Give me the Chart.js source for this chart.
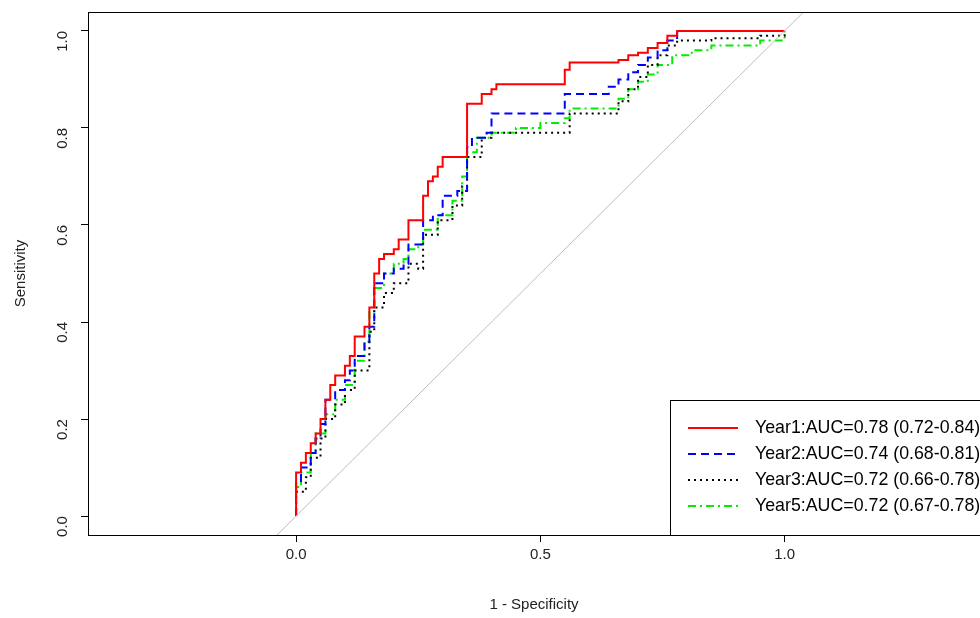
<!DOCTYPE html>
<html>
<head>
<meta charset="utf-8">
<script src="https://cdn.jsdelivr.net/npm/chart.js@4/dist/chart.umd.min.js"></script>
<style>
html,body{margin:0;padding:0;background:#fff;overflow:hidden}
#wrap{width:980px;height:618px}
</style>
</head>
<body>
<div id="wrap"><canvas id="roc"></canvas></div>
<script>
// ROC curves, points as [1 - specificity, sensitivity]
var year1 = [[0,0],[0,0.09],[0.01,0.11],[0.02,0.13],[0.03,0.15],[0.04,0.17],[0.05,0.2],[0.06,0.24],[0.07,0.27],[0.08,0.29],[0.1,0.31],[0.11,0.33],[0.12,0.37],[0.14,0.39],[0.15,0.43],[0.16,0.46],[0.16,0.5],[0.17,0.53],[0.18,0.54],[0.2,0.55],[0.21,0.57],[0.23,0.57],[0.23,0.61],[0.26,0.61],[0.26,0.66],[0.27,0.69],[0.28,0.7],[0.29,0.72],[0.3,0.74],[0.34,0.74],[0.35,0.76],[0.35,0.85],[0.38,0.85],[0.38,0.87],[0.4,0.88],[0.41,0.89],[0.55,0.89],[0.55,0.92],[0.56,0.935],[0.64,0.935],[0.66,0.94],[0.68,0.95],[0.7,0.955],[0.72,0.965],[0.74,0.975],[0.76,0.99],[0.78,1],[1,1]];
var year2 = [[0,0],[0,0.07],[0.01,0.1],[0.03,0.13],[0.04,0.16],[0.05,0.19],[0.06,0.24],[0.08,0.26],[0.1,0.28],[0.11,0.3],[0.12,0.33],[0.14,0.36],[0.15,0.39],[0.16,0.44],[0.16,0.48],[0.18,0.5],[0.2,0.51],[0.22,0.52],[0.23,0.56],[0.25,0.56],[0.26,0.61],[0.28,0.62],[0.3,0.66],[0.33,0.67],[0.35,0.7],[0.35,0.76],[0.36,0.78],[0.39,0.79],[0.4,0.83],[0.54,0.83],[0.55,0.87],[0.62,0.87],[0.64,0.885],[0.66,0.9],[0.68,0.915],[0.7,0.93],[0.72,0.945],[0.74,0.96],[0.76,0.98],[0.78,1],[1,1]];
var year3 = [[0,0],[0,0.05],[0.02,0.08],[0.03,0.12],[0.05,0.16],[0.06,0.2],[0.08,0.23],[0.1,0.26],[0.12,0.3],[0.15,0.34],[0.15,0.38],[0.16,0.43],[0.18,0.46],[0.2,0.48],[0.22,0.48],[0.23,0.52],[0.25,0.51],[0.26,0.58],[0.29,0.61],[0.32,0.64],[0.34,0.68],[0.35,0.74],[0.38,0.78],[0.4,0.79],[0.55,0.79],[0.56,0.83],[0.64,0.83],[0.66,0.855],[0.68,0.88],[0.7,0.905],[0.72,0.93],[0.74,0.95],[0.76,0.97],[0.78,0.98],[0.85,0.985],[0.95,0.99],[1,1]];
var year5 = [[0,0],[0,0.06],[0.01,0.09],[0.03,0.13],[0.04,0.17],[0.06,0.21],[0.08,0.24],[0.1,0.27],[0.12,0.32],[0.14,0.36],[0.15,0.42],[0.16,0.47],[0.18,0.5],[0.2,0.52],[0.22,0.53],[0.23,0.55],[0.25,0.56],[0.26,0.59],[0.29,0.62],[0.32,0.65],[0.34,0.7],[0.35,0.75],[0.37,0.78],[0.4,0.79],[0.45,0.8],[0.5,0.81],[0.55,0.82],[0.56,0.84],[0.64,0.84],[0.66,0.86],[0.68,0.88],[0.7,0.895],[0.72,0.91],[0.74,0.93],[0.77,0.95],[0.81,0.96],[0.85,0.97],[0.95,0.98],[1,1]];
var diagonal = [[-0.5,-0.5],[1.5,1.5]];
var seriesLabels = ["Year1:AUC=0.78 (0.72-0.84)", "Year2:AUC=0.74 (0.68-0.81)", "Year3:AUC=0.72 (0.66-0.78)", "Year5:AUC=0.72 (0.67-0.78)"];
var seriesColors = ["#ff0000", "#0000ff", "#000000", "#00ee00"];
var seriesDash = [[], [8,5], [2,4], [8,4,2,4]];
var xTicks = [0, 0.5, 1];
var yTicks = [0, 0.2, 0.4, 0.6, 0.8, 1];

function pts(a){ return a.map(function(p){ return {x:p[0], y:p[1]}; }); }

var curves = [year1, year2, year3, year5];
var datasets = [{data: pts(diagonal), borderColor:"#bebebe", borderWidth:1, pointRadius:0, label:"diag"}];
curves.forEach(function(c, i){
    datasets.push({label: seriesLabels[i], data: pts(c), borderColor: seriesColors[i], borderWidth: 2,
        borderDash: seriesDash[i], pointRadius: 0, tension: 0, stepped: "before"});
});

var boxAndLegend = {
    id: "boxAndLegend",
    afterDraw: function(chart){
        var ctx = chart.ctx, a = chart.chartArea;
        ctx.save();
        ctx.strokeStyle = "#000"; ctx.lineWidth = 1; ctx.setLineDash([]);
        ctx.strokeRect(a.left + 0.5, a.top + 0.5, a.right - a.left + 10, a.bottom - a.top);
        // legend box bottom right
        var lx = 670.5, ly = 400.5;
        ctx.fillStyle = "#fff";
        ctx.fillRect(lx, ly, 400, a.bottom - ly);
        ctx.strokeRect(lx, ly, 400, a.bottom - ly + 0.5);
        ctx.font = "17.8px 'Liberation Sans', Arial, sans-serif";
        ctx.textBaseline = "middle";
        for (var i = 0; i < seriesLabels.length; i++) {
            var y = 428 + i * 26;
            ctx.strokeStyle = seriesColors[i]; ctx.lineWidth = 2;
            ctx.setLineDash(seriesDash[i]);
            ctx.beginPath(); ctx.moveTo(688, y); ctx.lineTo(738, y); ctx.stroke();
            ctx.fillStyle = "#000";
            ctx.fillText(seriesLabels[i], 755, y);
        }
        ctx.restore();
    }
};

new Chart(document.getElementById("roc"), {
    type: "line",
    data: {datasets: datasets},
    plugins: [boxAndLegend],
    options: {
        responsive: true, maintainAspectRatio: false, animation: false,
        layout: {padding: {left: 0, top: 12, right: 0, bottom: 0}},
        plugins: {legend: {display: false}, tooltip: {enabled: false}},
        scales: {
            x: {type: "linear", min: -0.426, max: 1.4,
                afterBuildTicks: function(s){ s.ticks = xTicks.map(function(v){ return {value: v}; }); },
                afterFit: function(s){ s.height = 83; s.paddingLeft = 0; s.paddingRight = 0; },
                grid: {drawOnChartArea: false, tickLength: 7, color: "#000", tickColor: "#000"},
                border: {display: false},
                ticks: {color: "#222", font: {size: 15, family: "'Liberation Sans', Arial"}, padding: 4,
                    maxRotation: 0, callback: function(v){ return v.toFixed(1); }},
                title: {display: true, text: "1 - Specificity", color: "#222", padding: {top: 19},
                    font: {size: 15, family: "'Liberation Sans', Arial"}}
            },
            y: {type: "linear", min: -0.039, max: 1.039,
                afterBuildTicks: function(s){ s.ticks = yTicks.map(function(v){ return {value: v}; }); },
                afterFit: function(s){ s.width = 88; s.paddingTop = 0; s.paddingBottom = 0; },
                grid: {drawOnChartArea: false, tickLength: 7, color: "#000", tickColor: "#000"},
                border: {display: false},
                ticks: {color: "#222", font: {size: 15, family: "'Liberation Sans', Arial"}, padding: 18,
                    minRotation: 90, maxRotation: 90, callback: function(v){ return v.toFixed(1); }},
                title: {display: true, text: "Sensitivity", color: "#222", padding: {top: 12, bottom: 0},
                    font: {size: 15, family: "'Liberation Sans', Arial"}}
            }
        }
    }
});
</script>
</body>
</html>
